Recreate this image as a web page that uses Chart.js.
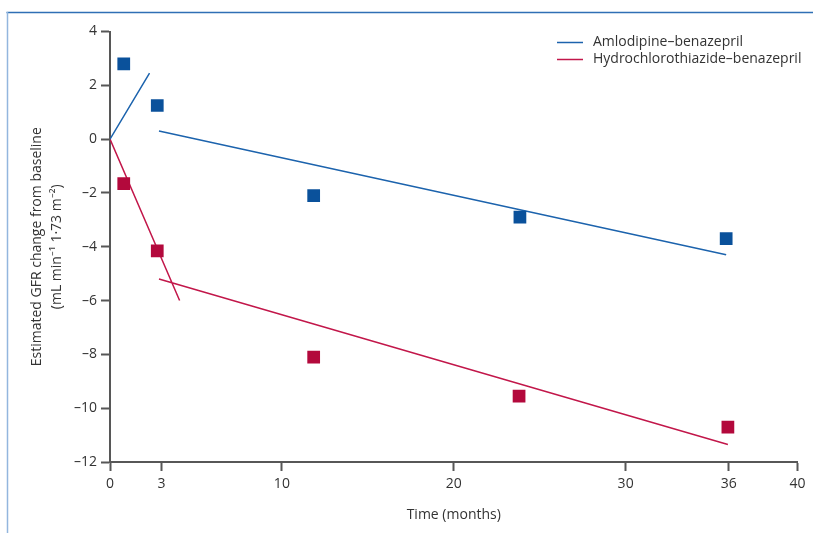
<!DOCTYPE html>
<html>
<head>
<meta charset="utf-8">
<script src="https://cdn.jsdelivr.net/npm/chart.js@4.4.0/dist/chart.umd.min.js"></script>
<style>
    html, body { margin: 0; padding: 0; background: #fff; }
    #wrap { position: relative; width: 813px; height: 533px; }
</style>
</head>
<body>
<div id="wrap"><canvas id="myChart" width="813" height="533"></canvas></div>
<script>
// valores
var seriesNames = ['Amlodipine\u2013benazepril', 'Hydrochlorothiazide\u2013benazepril'];
var amloMonths = [0.8, 2.75, 11.85, 23.85, 35.85];
var amloValues = [2.8, 1.25, -2.1, -2.9, -3.7];
var hctzMonths = [0.8, 2.75, 11.85, 23.8, 35.95];
var hctzValues = [-1.65, -4.15, -8.1, -9.55, -10.7];

// rectas de tendencia (inicio y fin de cada tramo)
var amloEarlyX = [0, 2.3];
var amloEarlyY = [0, 2.45];
var amloLateX = [2.85, 35.85];
var amloLateY = [0.3, -4.3];
var hctzEarlyX = [0, 4.05];
var hctzEarlyY = [0, -6.0];
var hctzLateX = [2.85, 35.95];
var hctzLateY = [-5.2, -11.35];

var xTicks = [0, 3, 10, 20, 30, 36, 40];
var yMin = -12, yMax = 4, yStep = 2;

var azul = '#0a519b';
var azulLinea = '#1c63ad';
var rojo = '#b3093c';
var rojoLinea = '#c2174a';
var gris = '#575757';
var texto = '#333333';
var fuente = "'Open Sans', sans-serif";

var puntos = function (xs, ys) {
    return xs.map(function (x, i) { return { x: x, y: ys[i] }; });
};
var tramos = function (x1, y1, x2, y2) {
    var d = puntos(x1, y1);
    d.push({ x: (x1[1] + x2[0]) / 2, y: null });
    return d.concat(puntos(x2, y2));
};

var marco = {
    id: 'marco',
    beforeDraw: function (chart) {
        var ctx = chart.ctx;
        ctx.save();
        ctx.lineWidth = 1.5;
        ctx.strokeStyle = '#2f6fb5';
        ctx.beginPath();
        ctx.moveTo(6.5, 12.5);
        ctx.lineTo(813, 12.5);
        ctx.stroke();
        ctx.strokeStyle = '#93b6de';
        ctx.beginPath();
        ctx.moveTo(7.5, 12);
        ctx.lineTo(7.5, 533);
        ctx.stroke();
        ctx.restore();
    }
};

var leyenda = {
    id: 'leyenda',
    afterDraw: function (chart) {
        var ctx = chart.ctx;
        var colores = [azulLinea, rojoLinea];
        ctx.save();
        ctx.font = '14px ' + fuente;
        ctx.textBaseline = 'middle';
        ctx.textAlign = 'left';
        seriesNames.forEach(function (nombre, i) {
            var y = 42.5 + i * 17;
            ctx.strokeStyle = colores[i];
            ctx.lineWidth = 1.5;
            ctx.beginPath();
            ctx.moveTo(557, y);
            ctx.lineTo(583, y);
            ctx.stroke();
            ctx.fillStyle = texto;
            ctx.fillText(nombre, 593, y);
        });
        ctx.restore();
    }
};

var ctx = document.getElementById('myChart');
var myChart = new Chart(ctx, {
    type: 'scatter',
    data: {
        datasets: [
            {
                label: seriesNames[0],
                data: puntos(amloMonths, amloValues),
                pointStyle: 'rect',
                pointRadius: 9,
                backgroundColor: azul,
                borderWidth: 0,
                showLine: false
            },
            {
                label: seriesNames[1],
                data: puntos(hctzMonths, hctzValues),
                pointStyle: 'rect',
                pointRadius: 9,
                backgroundColor: rojo,
                borderWidth: 0,
                showLine: false
            },
            {
                label: seriesNames[0] + ' fit',
                data: tramos(amloEarlyX, amloEarlyY, amloLateX, amloLateY),
                showLine: true,
                spanGaps: false,
                pointRadius: 0,
                borderColor: azulLinea,
                borderWidth: 1.5
            },
            {
                label: seriesNames[1] + ' fit',
                data: tramos(hctzEarlyX, hctzEarlyY, hctzLateX, hctzLateY),
                showLine: true,
                spanGaps: false,
                pointRadius: 0,
                borderColor: rojoLinea,
                borderWidth: 1.5
            }
        ]
    },
    plugins: [marco, leyenda],
    options: {
        responsive: false,
        animation: false,
        devicePixelRatio: 1,
        layout: {
            padding: { left: 0, right: 15.5, top: 31.5, bottom: 0 }
        },
        plugins: {
            legend: { display: false },
            tooltip: { enabled: false }
        },
        scales: {
            x: {
                type: 'linear',
                min: 0,
                max: 40,
                afterBuildTicks: function (scale) {
                    scale.ticks = xTicks.map(function (v) { return { value: v }; });
                },
                afterFit: function (scale) {
                    scale.height = 71;
                },
                grid: {
                    drawOnChartArea: false,
                    drawTicks: true,
                    tickLength: 9,
                    tickWidth: 2,
                    tickColor: gris
                },
                border: { color: gris, width: 2 },
                ticks: {
                    color: texto,
                    font: { family: fuente, size: 14 },
                    padding: 5,
                    maxRotation: 0
                },
                title: {
                    display: true,
                    text: 'Time (months)',
                    color: texto,
                    font: { family: fuente, size: 14 },
                    padding: { top: 0, bottom: 10 }
                }
            },
            y: {
                type: 'linear',
                min: yMin,
                max: yMax,
                ticks: {
                    stepSize: yStep,
                    color: texto,
                    font: { family: fuente, size: 14 },
                    padding: 4,
                    callback: function (v) { return v < 0 ? '\u2013' + Math.abs(v) : '' + v; }
                },
                afterFit: function (scale) {
                    scale.width = 110;
                },
                grid: {
                    drawOnChartArea: false,
                    drawTicks: true,
                    tickLength: 9,
                    tickWidth: 2,
                    tickColor: gris
                },
                border: { color: gris, width: 2 },
                title: {
                    display: true,
                    text: ['Estimated GFR change from baseline', '(mL min\u207B\u00B9 1\u00B773 m\u207B\u00B2)'],
                    color: texto,
                    font: { family: fuente, size: 14, lineHeight: 1.45 },
                    padding: { top: 27, bottom: 0 }
                }
            }
        }
    }
});
</script>
</body>
</html>
